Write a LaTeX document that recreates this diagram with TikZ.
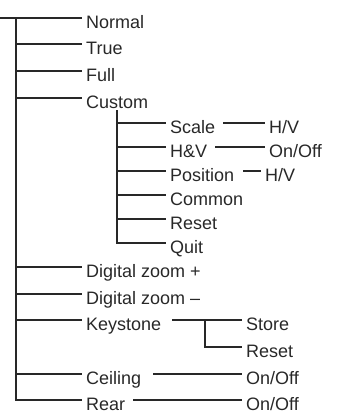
\documentclass[tikz,border=0pt]{standalone}
\usepackage{fontspec}
\setmainfont{Liberation Sans}
\definecolor{ink}{RGB}{40,40,40}
\tikzset{
  lbl/.style={anchor=west, inner xsep=4pt, inner ysep=0pt, text height=21pt, text depth=0pt,
              font=\fontsize{18}{18}\selectfont, text=ink},
  ln/.style={draw=ink, line width=1.2pt}
}
\begin{document}
\begin{tikzpicture}[x=1pt,y=-1pt]
\useasboundingbox (0,0) rectangle (338,413);
% main labels
\node[lbl] (normal) at (82,18) {Normal};
\node[lbl] (true) at (82,44) {True};
\node[lbl] (full) at (82,71) {Full};
\node[lbl] (custom) at (82,98) {Custom};
\node[lbl] (dzp) at (82,267) {Digital zoom +};
\node[lbl] (dzm) at (82,294) {Digital zoom \textendash};
\node[lbl] (key) at (82,320) {Keystone};
\node[lbl] (ceil) at (82,374) {Ceiling};
\node[lbl] (rear) at (82,400) {Rear};
% custom submenu
\node[lbl] (scale) at (166,123) {Scale};
\node[lbl] (hv) at (166,147) {H\&V};
\node[lbl] (pos) at (166,171) {Position};
\node[lbl] (common) at (166,195) {Common};
\node[lbl] (reset) at (166,219) {Reset};
\node[lbl] (quit) at (166,243) {Quit};
\node[lbl] (scalehv) at (265,123) {H/V};
\node[lbl] (hvonoff) at (265,147) {On/Off};
\node[lbl] (poshv) at (261,171) {H/V};
% keystone etc
\node[lbl] (store) at (242,320) {Store};
\node[lbl] (kreset) at (242,347) {Reset};
\node[lbl] (ceilonoff) at (242,374) {On/Off};
\node[lbl] (rearonoff) at (242,400) {On/Off};
% coordinates
\coordinate (start) at (0,18);
\coordinate (t) at (16,18);
\coordinate (tend) at (16,400);
\coordinate (s) at (117,110);
\coordinate (send) at (117,243);
\coordinate (scaleR) at (223,123);
\coordinate (hvR) at (215,147);
\coordinate (posR) at (243,171);
\coordinate (keyR) at (172,320);
\coordinate (kv) at (205,320);
\coordinate (kvend) at (205,347);
\coordinate (ceilR) at (153,374);
\coordinate (rearR) at (133,400);
% trunk
\draw[ln] (start) -- (normal.west);
\draw[ln] (t) -- (tend) -- (rear.west);
\foreach \n in {true,full,custom,dzp,dzm,key,ceil}
  \draw[ln] (t |- \n.west) -- (\n.west);
% sub trunk
\draw[ln] (s) -- (send) -- (quit.west);
\foreach \n in {scale,hv,pos,common,reset}
  \draw[ln] (s |- \n.west) -- (\n.west);
% right side connectors
\draw[ln] (scaleR) -- (scalehv.west);
\draw[ln] (hvR) -- (hvonoff.west);
\draw[ln] (posR) -- (poshv.west);
\draw[ln] (keyR) -- (store.west);
\draw[ln] (kv) -- (kvend) -- (kreset.west);
\draw[ln] (ceilR) -- (ceilonoff.west);
\draw[ln] (rearR) -- (rearonoff.west);
\end{tikzpicture}
\end{document}
